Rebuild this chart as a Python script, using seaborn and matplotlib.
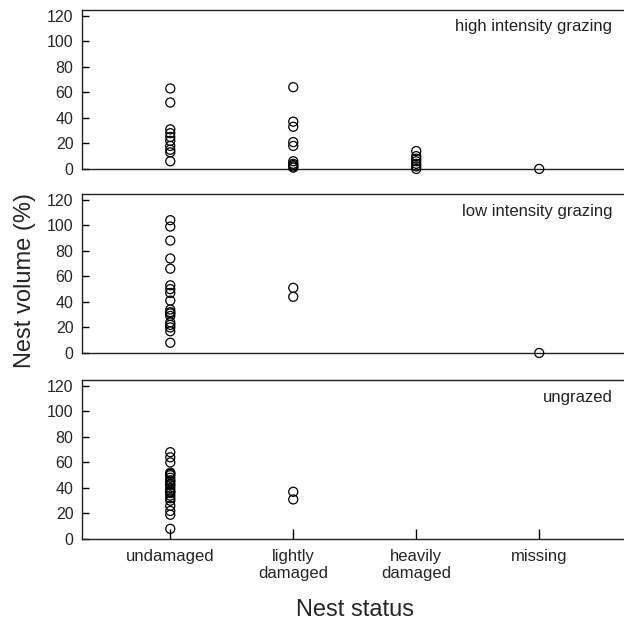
import pandas as pd
import numpy as np
import seaborn as sns
import matplotlib.pyplot as plt

statuses = ['undamaged', 'lightly damaged', 'heavily damaged', 'missing']
tick_labels = ['undamaged', 'lightly\ndamaged', 'heavily\ndamaged', 'missing']
panel_titles = ['high intensity grazing', 'low intensity grazing', 'ungrazed']

# high intensity grazing
high_undamaged = [63, 52, 31, 28, 25, 22, 18, 15, 13, 6]
high_lightly = [64, 37, 33, 21, 18, 6, 4, 3, 2, 1]
high_heavily = [14, 10, 8, 6, 4, 2, 0]
high_missing = [0]

# low intensity grazing
low_undamaged = [104, 99, 88, 74, 66, 53, 50, 47, 41, 34, 32, 31, 29, 24, 22, 20, 17, 8]
low_lightly = [51, 44]
low_heavily = []
low_missing = [0]

# ungrazed
ungr_undamaged = [68, 64, 60, 52, 51, 50, 48, 46, 45, 43, 42, 40, 38, 37, 36, 34,
                  32, 30, 26, 22, 19, 8]
ungr_lightly = [37, 31]
ungr_heavily = []
ungr_missing = []

y_ticks = [0, 20, 40, 60, 80, 100, 120]


def make_frame(groups):
    rows = []
    for status, vals in zip(statuses, groups):
        for v in vals:
            rows.append({'status': status, 'volume': v})
    return pd.DataFrame(rows, columns=['status', 'volume'])


panels = [
    make_frame([high_undamaged, high_lightly, high_heavily, high_missing]),
    make_frame([low_undamaged, low_lightly, low_heavily, low_missing]),
    make_frame([ungr_undamaged, ungr_lightly, ungr_heavily, ungr_missing]),
]

sns.set_style('white')
plt.rcParams['font.family'] = ['Liberation Sans', 'DejaVu Sans']

fig = plt.figure(figsize=(6.24, 6.21), dpi=100)
bottoms = [0.728, 0.4316, 0.132]
height = 0.256

axes = []
for i, (df, title) in enumerate(zip(panels, panel_titles)):
    ax = fig.add_axes([0.131, bottoms[i], 0.875, height])
    sns.stripplot(data=df, x='status', y='volume', order=statuses, jitter=False,
                  color='black', size=6.5, linewidth=1, ax=ax, zorder=3)
    # drop empty groups, make circles hollow and let the zero points overhang the axis
    for coll in list(ax.collections):
        if len(coll.get_offsets()) == 0:
            coll.remove()
            continue
        coll.set_facecolor('none')
        coll.set_edgecolor('black')
        coll.set_linewidth(0.9)
        coll.set_clip_on(False)
    ax.set_xlim(-0.72, 3.72)
    ax.set_ylim(0, 124.5)
    ax.set_yticks(y_ticks)
    ax.tick_params(axis='y', direction='in', length=5, width=1, color='black',
                   labelsize=11.5, left=True, pad=6)
    for side in ['left', 'top', 'bottom']:
        ax.spines[side].set_visible(True)
        ax.spines[side].set_color('#222222')
        ax.spines[side].set_linewidth(1)
    ax.spines['right'].set_visible(False)
    ax.text(0.972, 0.893, title, transform=ax.transAxes, ha='right', va='center',
            fontsize=12, color='#222222')
    ax.set_xlabel('')
    ax.set_ylabel('')
    if i < 2:
        ax.set_xticks([])
    else:
        ax.set_xticks(range(len(statuses)))
        ax.set_xticklabels(tick_labels, fontsize=12, linespacing=1.15)
        ax.tick_params(axis='x', direction='in', length=7, width=1, color='black',
                       bottom=True, pad=7)
    axes.append(ax)

fig.text(25 / 624, 1 - 281 / 621, 'Nest volume (%)', rotation=90,
         ha='center', va='center', fontsize=17)
fig.text(355 / 624, 1 - 610 / 621, 'Nest status', ha='center', va='center', fontsize=17)

fig.savefig('out.png', dpi=100)
